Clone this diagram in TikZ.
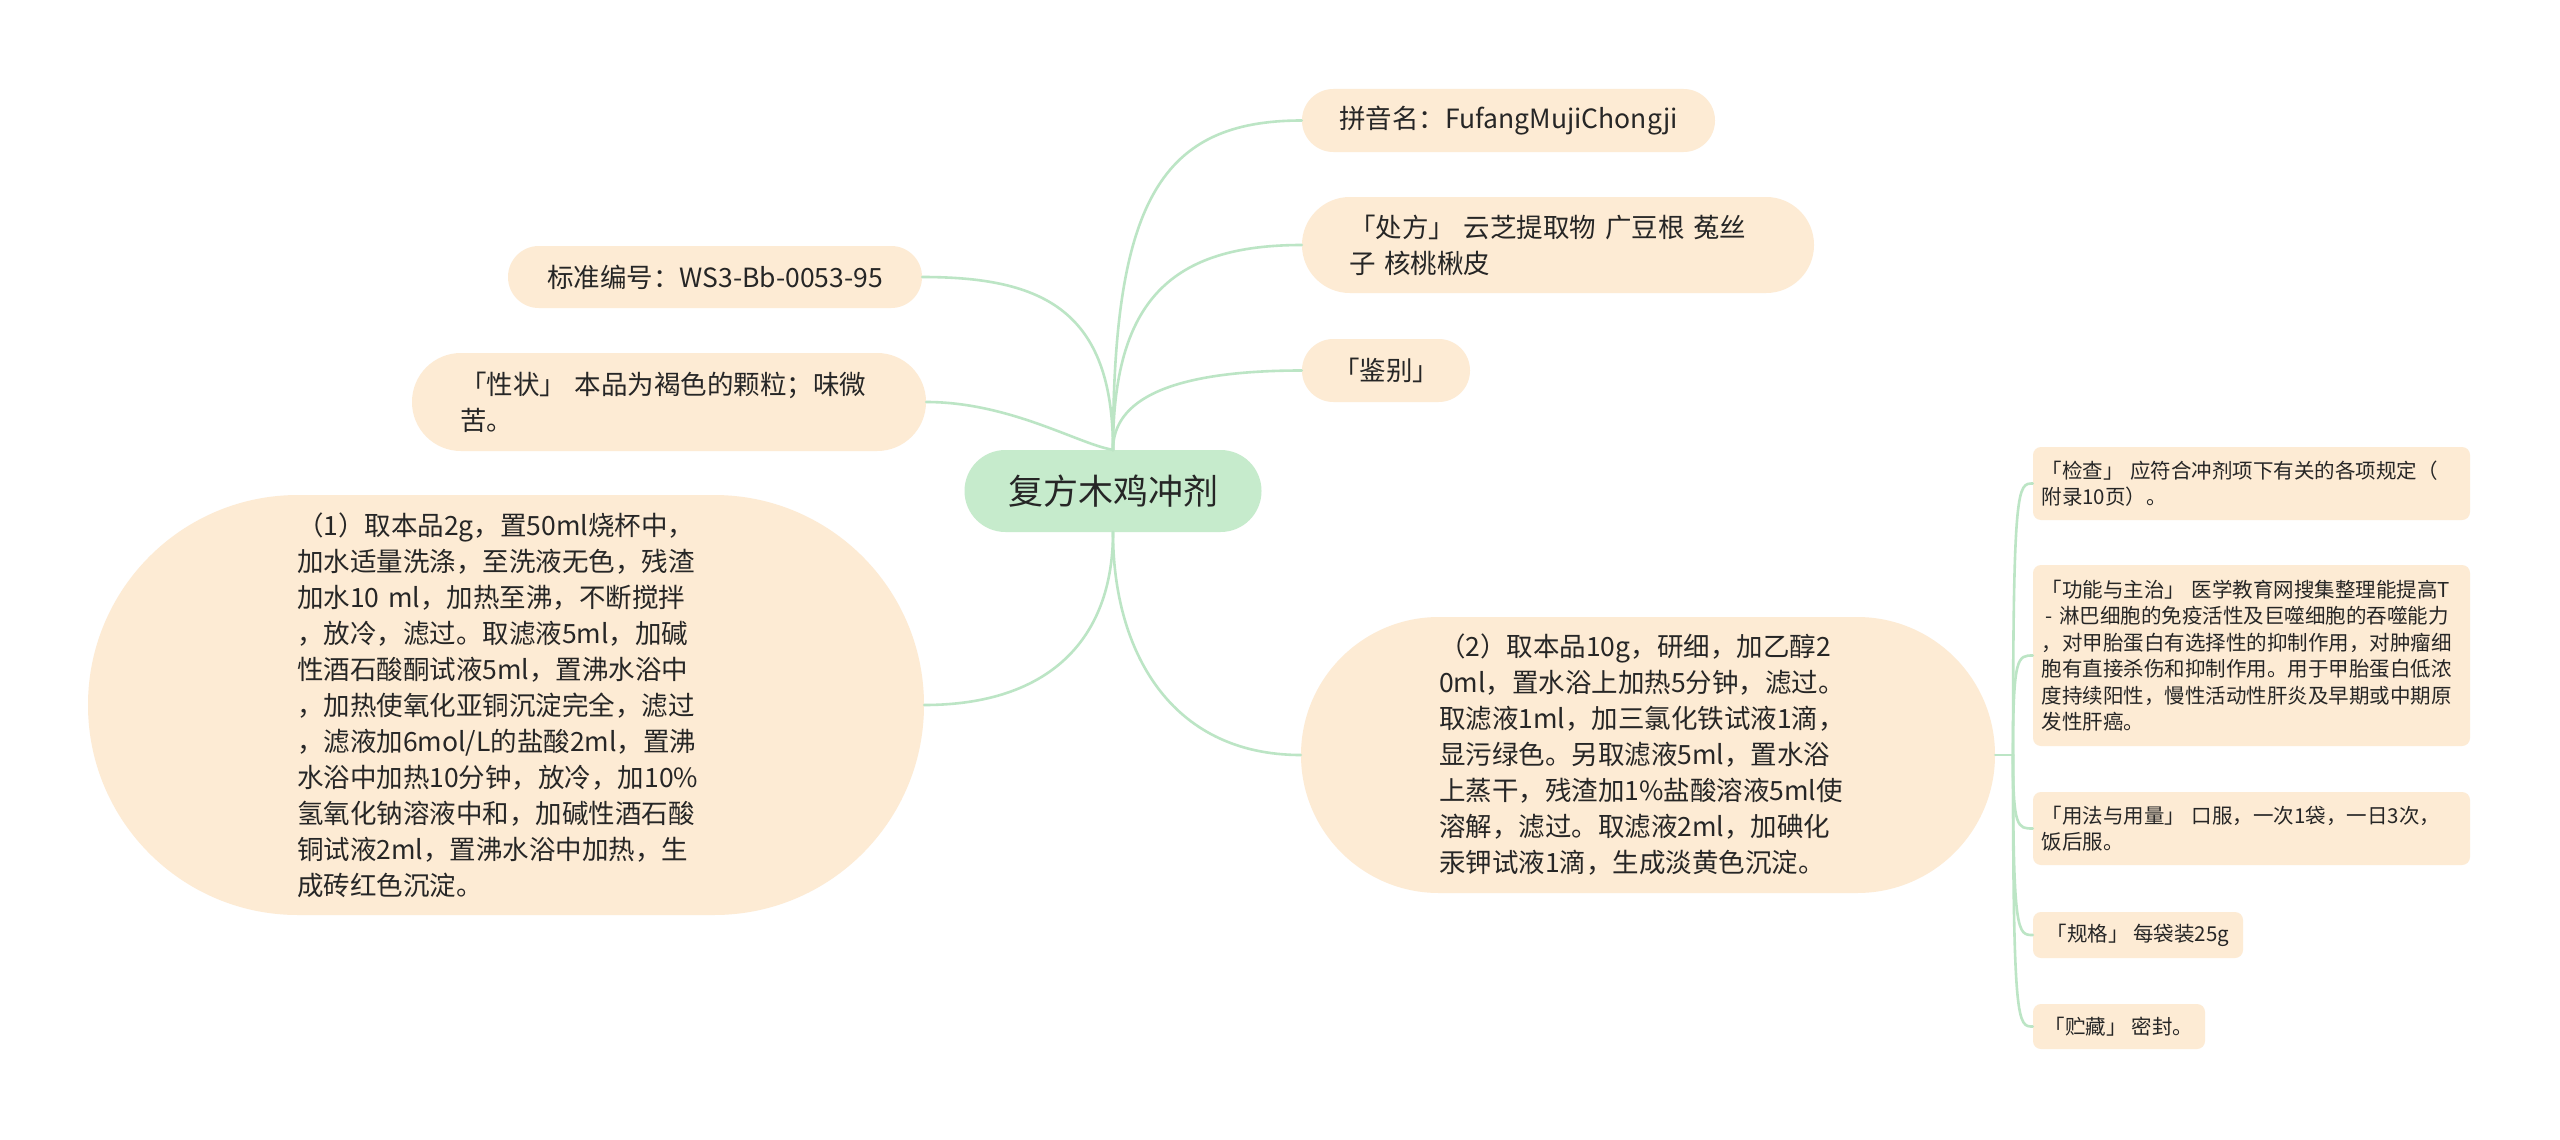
\documentclass[tikz,border=0pt]{standalone}
\usepackage{fontspec}
\setmainfont{Noto Sans CJK SC}
\setlength{\parindent}{0pt}
\definecolor{boxfill}{HTML}{FDEBD4}
\definecolor{rootfill}{HTML}{C6EBCC}
\definecolor{linkc}{HTML}{BCE5C5}
\definecolor{txt}{HTML}{262626}
\tikzset{
  lvone/.style={fill=boxfill, inner sep=0pt, align=left, text=txt,
    font=\fontsize{26.5pt}{36pt}\selectfont},
  lvtwo/.style={fill=boxfill, rounded corners=8pt, inner sep=0pt, align=left, text=txt,
    font=\fontsize{20.5pt}{26.5pt}\selectfont},
  rootbox/.style={fill=rootfill, inner sep=0pt, text=txt,
    font=\fontsize{35pt}{42pt}\selectfont},
  link/.style={draw=linkc, line width=2.6pt, line cap=round}
}
\begin{document}
\begin{tikzpicture}[x=1pt,y=-1pt]
\useasboundingbox[fill=white] (0,0) rectangle (2560,1140);

% root
\node[rootbox, minimum width=297pt, minimum height=82pt, rounded corners=40.9pt] (c) at (1113,491) {复方木鸡冲剂};

% right level 1
\node[lvone, minimum width=413pt, minimum height=63pt, rounded corners=31.4pt] (py) at (1508.5,120.5) {拼音名：FufangMujiChongji};
\node[lvone, minimum width=512pt, minimum height=96pt, rounded corners=47.9pt, text width=418pt] (cf) at (1558,245) {「处方」 云芝提取物 广豆根 菟丝\\子 核桃楸皮};
\node[lvone, minimum width=168pt, minimum height=63pt, rounded corners=31.4pt] (jb) at (1386,370.5) {「鉴别」};
\node[lvone, minimum width=694pt, minimum height=276pt, rounded corners=137.9pt, text width=418pt] (n2) at (1648,755) {（2）取本品10g，研细，加乙醇2\\0ml，置水浴上加热5分钟，滤过。\\取滤液1ml，加三氯化铁试液1滴，\\显污绿色。另取滤液5ml，置水浴\\上蒸干，残渣加1\%盐酸溶液5ml使\\溶解，滤过。取滤液2ml，加碘化\\汞钾试液1滴，生成淡黄色沉淀。};

% left level 1
\node[lvone, minimum width=414pt, minimum height=62pt, rounded corners=30.9pt] (bz) at (715,277) {标准编号：WS3-Bb-0053-95};
\node[lvone, minimum width=514pt, minimum height=98pt, rounded corners=48.9pt, text width=418pt] (xz) at (669,402) {「性状」 本品为褐色的颗粒；味微\\苦。};
\node[lvone, minimum width=836pt, minimum height=420pt, rounded corners=209.9pt, text width=418pt] (n1) at (506,705) {（1）取本品2g，置50ml烧杯中，\\加水适量洗涤，至洗液无色，残渣\\加水10 ml，加热至沸，不断搅拌\\，放冷，滤过。取滤液5ml，加碱\\性酒石酸酮试液5ml，置沸水浴中\\，加热使氧化亚铜沉淀完全，滤过\\，滤液加6mol/L的盐酸2ml，置沸\\水浴中加热10分钟，放冷，加10\%\\氢氧化钠溶液中和，加碱性酒石酸\\铜试液2ml，置沸水浴中加热，生\\成砖红色沉淀。};

% right level 2
\node[lvtwo, minimum width=437pt, minimum height=73pt, text width=420pt] (jc) at (2251.5,483.5) {「检查」 应符合冲剂项下有关的各项规定（\\附录10页）。};
\node[lvtwo, minimum width=437pt, minimum height=181pt, text width=420pt] (gn) at (2251.5,655.5) {「功能与主治」 医学教育网搜集整理能提高T\\\hspace*{4pt}- 淋巴细胞的免疫活性及巨噬细胞的吞噬能力\\，对甲胎蛋白有选择性的抑制作用，对肿瘤细\\胞有直接杀伤和抑制作用。用于甲胎蛋白低浓\\度持续阳性，慢性活动性肝炎及早期或中期原\\发性肝癌。};
\node[lvtwo, minimum width=437pt, minimum height=73pt, text width=420pt] (yf) at (2251.5,828.5) {「用法与用量」 口服，一次1袋，一日3次，\\饭后服。};
\node[lvtwo, minimum width=210pt, minimum height=46pt] (gg) at (2138,935) {「规格」 每袋装25g};
\node[lvtwo, minimum width=172pt, minimum height=45pt] (zc) at (2119,1026.5) {「贮藏」 密封。};

% connectors from root
\draw[link] (c.north) .. controls +(0,-250) and +(-140,0) .. (py.west);
\draw[link] (c.north) .. controls +(0,-150) and +(-130,0) .. (cf.west);
\draw[link] (c.north) .. controls +(0,-50) and +(-132,0) .. (jb.west);
\draw[link] (c.north) .. controls +(0,-140) and +(120,0) .. (bz.east);
\draw[link] (c.north) .. controls +(-33,-5) and +(84,0) .. (xz.east);
\draw[link] (c.south) .. controls +(0,108) and +(124,0) .. (n1.east);
\draw[link] (c.south) .. controls +(0,118) and +(-131,0) .. (n2.west);

% connectors level 2
\coordinate (j) at (2013,755);
\draw[link] (n2.east) -- (j);
\draw[link] (j) .. controls +(0,-271.5) and +(-15,0) .. (jc.west);
\draw[link] (j) .. controls +(0,-99.5) and +(-15,0) .. (gn.west);
\draw[link] (j) .. controls +(0,73.5) and +(-15,0) .. (yf.west);
\draw[link] (j) .. controls +(0,180) and +(-15,0) .. (gg.west);
\draw[link] (j) .. controls +(0,271.5) and +(-15,0) .. (zc.west);
\end{tikzpicture}
\end{document}
